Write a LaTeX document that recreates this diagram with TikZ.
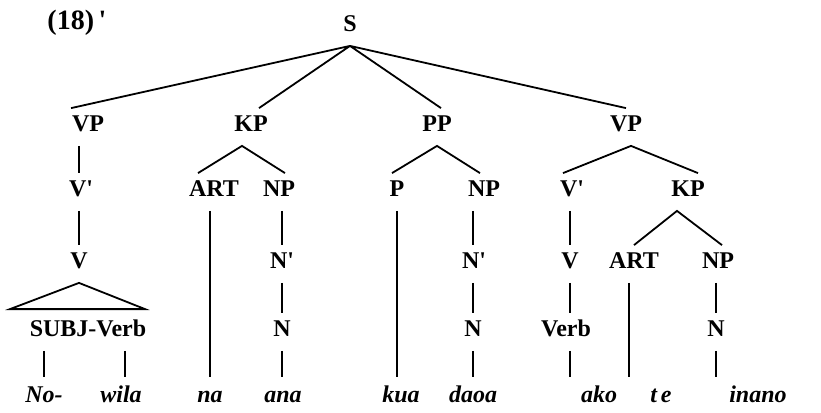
\documentclass[tikz,border=0pt]{standalone}
\usepackage{fontspec}
\setmainfont{Liberation Serif}
\usepackage{tikz}
\usetikzlibrary{calc}
\newcommand{\prm}{\textquotesingle}

\begin{document}
\begin{tikzpicture}[x=0.5pt, y=-0.5pt, line width=0.9pt,
    cat/.style={font=\bfseries\fontsize{12}{14}\selectfont, anchor=base,
      inner xsep=0pt, inner ysep=3pt, text height=8pt, text depth=4pt},
    word/.style={font=\bfseries\itshape\fontsize{12}{14}\selectfont, anchor=base,
      inner xsep=0pt, inner ysep=4pt, text height=8pt, text depth=0pt}]
  \useasboundingbox (0,0) rectangle (821,413);%

  \node[cat, font=\bfseries\fontsize{14}{16}\selectfont] (ex) at (77,29) {(18)\,\prm};%
  \node[cat] (s) at (350,31) {S};%
  % first level
  \node[cat] (vp1) at (88,131) {VP};%
  \node[cat] (kp1) at (251,131) {KP};%
  \node[cat] (pp)  at (437,131) {PP};%
  \node[cat] (vp2) at (626,131) {VP};%
  % second level
  \node[cat] (vb1)  at (81,196)  {V\prm};%
  \node[cat] (art1) at (214,196) {ART};%
  \node[cat] (np1)  at (279,196) {NP};%
  \node[cat] (p)    at (397,196) {P};%
  \node[cat] (np2)  at (484,196) {NP};%
  \node[cat] (vb2)  at (572,196) {V\prm};%
  \node[cat] (kp2)  at (688,196) {KP};%
  % third level
  \node[cat] (v1)   at (79,268)  {V};%
  \node[cat] (nb1)  at (282,268) {N\prm};%
  \node[cat] (nb2)  at (474,268) {N\prm};%
  \node[cat] (v2)   at (570,268) {V};%
  \node[cat] (art2) at (634,268) {ART};%
  \node[cat] (np3)  at (718,268) {NP};%
  % fourth level
  \node[cat] (sv)   at (88,336)  {SUBJ-Verb};%
  \node[cat] (n1)   at (282,336) {N};%
  \node[cat] (n2)   at (473,336) {N};%
  \node[cat] (verb) at (566,336) {Verb};%
  \node[cat] (n3)   at (716,336) {N};%
  % the words
  \node[word] (no)    at (44,402)  {No-};%
  \node[word] (wila)  at (121,402) {wila};%
  \node[word] (na)    at (210,402) {na};%
  \node[word] (ana)   at (283,402) {ana};%
  \node[word] (kua)   at (401,402) {kua};%
  \node[word] (daoa)  at (473,402) {daoa};%
  \node[word] (ako)   at (599,402) {ako};%
  \node[word] (te)    at (661,402) {t\,e};%
  \node[word] (inano) at (758,402) {inano};%

  % branches
  \draw (s.south) -- (vp1.north west) (s.south) -- ([xshift=4pt]kp1.north)
        (s.south) -- ([xshift=2pt]pp.north) (s.south) -- (vp2.north);%
  \draw ([xshift=-8pt]art1.north) -- ([xshift=-4.5pt]kp1.south) -- ([xshift=3pt]np1.north);%
  \draw ([xshift=-2.5pt]p.north) -- (pp.south) -- ([xshift=-2pt]np2.north);%
  \draw ([xshift=-4.5pt]vb2.north) -- ([xshift=2.5pt]vp2.south) -- ([xshift=5pt]kp2.north);%
  \draw (art2.north) -- ([xshift=-5.5pt]kp2.south) -- ([xshift=2pt]np3.north);%
  \draw (v1.south) -- ([shift={(-78,-4)}]sv.north) -- ([shift={(57,-4)}]sv.north) -- cycle;%

  % unary lines
  \draw (vp1.south -| v1) -- (vb1.north -| v1) (vb1.south -| v1) -- (v1.north);%
  \draw (art1.south -| na) -- (na.north);%
  \draw (np1.south -| n1) -- (nb1.north -| n1) (nb1.south -| n1) -- (n1.north)
        (n1.south) -- (ana.north -| n1);%
  \draw (p.south) -- (kua.north -| p);%
  \draw (np2.south -| n2) -- (nb2.north -| n2) (nb2.south -| n2) -- (n2.north)
        (n2.south) -- (daoa.north -| n2);%
  \draw (vb2.south -| v2) -- (v2.north) (v2.south) -- (verb.north -| v2)
        (verb.south -| v2) -- (ako.north -| v2);%
  \draw ([xshift=-2.5pt]art2.south) -- ([xshift=-2.5pt]art2.south |- te.north);%
  \draw (np3.south -| n3) -- (n3.north) (n3.south) -- (inano.north -| n3);%
  \draw (sv.south -| no) -- (no.north) ([xshift=2pt]sv.south -| wila) -- ([xshift=2pt]wila.north);%
\end{tikzpicture}
\end{document}
